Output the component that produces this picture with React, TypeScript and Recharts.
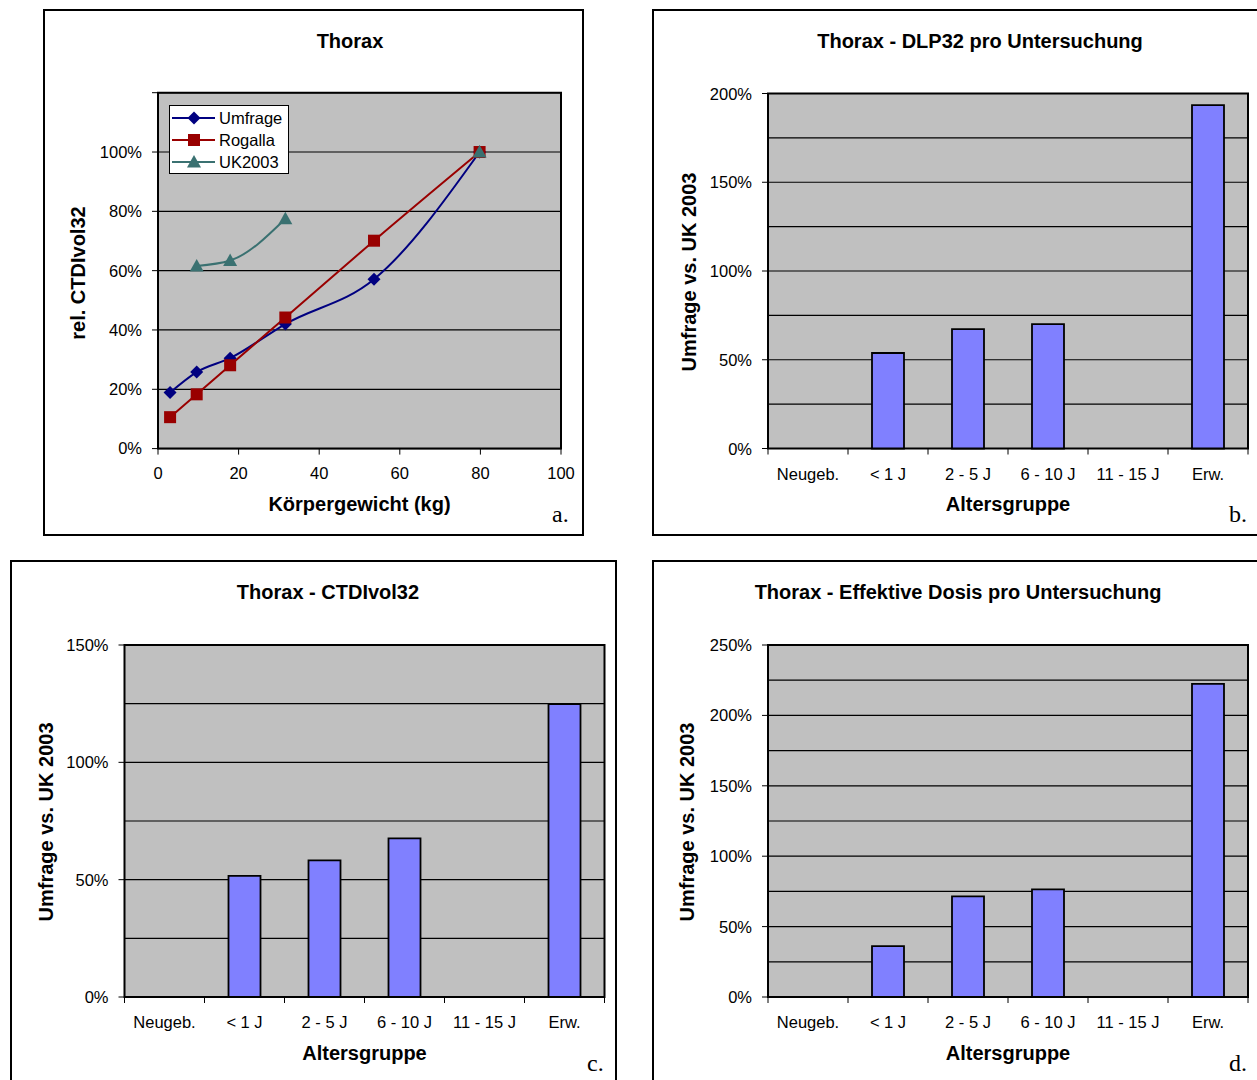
import React from "react";
import {
  LineChart,
  Line,
  BarChart,
  Bar,
  XAxis,
  YAxis,
  CartesianGrid,
  ReferenceArea,
} from "recharts";

const FONT = '"Liberation Sans", Arial, Helvetica, sans-serif';
const SERIF = '"Liberation Serif", "Times New Roman", serif';

const NAVY = "#000080";
const DARK_RED = "#990000";
const TEAL = "#3A7171";
const BAR_FILL = "#8080FF";
const PLOT_BG = "#C0C0C0";

// a. rel. CTDIvol32 over body weight
const weights = [3, 9.6, 17.9, 31.6, 53.6, 79.8];
const umfrage = [18.9, 25.8, 30.5, 42.0, 57.1, 100];
const rogalla = [10.6, 18.3, 28.1, 44.2, 70.1, 100];
const uk2003: (number | null)[] = [null, 61.6, 63.4, 77.5, null, 100];
const weightTicks = [0, 20, 40, 60, 80, 100];
const relTicks = [0, 20, 40, 60, 80, 100, 120];

// b.-d. Umfrage vs. UK 2003 per age group
const ageGroups = ["Neugeb.", "< 1 J", "2 - 5 J", "6 - 10 J", "11 - 15 J", "Erw."];
const dlpRatio = [null, 53.8, 67.3, 70.1, null, 193.5];
const ctdiRatio = [null, 51.6, 58.2, 67.6, null, 124.8];
const doseRatio = [null, 36.2, 71.5, 76.5, null, 222.4];
const ageEdgeTicks = [0, 0.5, 1, 1.5, 2, 2.5, 3, 3.5, 4, 4.5, 5, 5.5, 6];
const dlpTicks = [0, 25, 50, 75, 100, 125, 150, 175, 200];
const ctdiTicks = [0, 25, 50, 75, 100, 125, 150];
const doseTicks = [0, 25, 50, 75, 100, 125, 150, 175, 200, 225, 250];

type Plot = { l: number; t: number; r: number; b: number };

// margins so that the plot area lands on the given page rectangle
function frame(ox: number, oy: number, w: number, h: number, p: Plot) {
  return {
    margin: { top: p.t - oy, right: ox + w - p.r, left: 0, bottom: 0 },
    yWidth: p.l - ox,
    xHeight: oy + h - p.b,
  };
}

const tickText = { fill: "#000", fontSize: 16.5, fontFamily: FONT };

function Diamond({ cx, cy, color }: any) {
  if (cx == null || cy == null) return <g />;
  const s = 6.5;
  return (
    <polygon
      points={`${cx},${cy - s} ${cx + s},${cy} ${cx},${cy + s} ${cx - s},${cy}`}
      fill={color}
    />
  );
}

function Square({ cx, cy, color }: any) {
  if (cx == null || cy == null) return <g />;
  return <rect x={cx - 6} y={cy - 6} width={12} height={12} fill={color} />;
}

function Triangle({ cx, cy, color }: any) {
  if (cx == null || cy == null) return <g />;
  return (
    <polygon
      points={`${cx},${cy - 7} ${cx + 7},${cy + 5.5} ${cx - 7},${cy + 5.5}`}
      fill={color}
    />
  );
}

function WeightChart() {
  const ox = 44, oy = 10, w = 540, h = 526;
  const f = frame(ox, oy, w, h, { l: 158, t: 92.7, r: 561, b: 448.6 });
  const rows = weights.map((x, i) => ({
    x,
    umfrage: umfrage[i],
    rogalla: rogalla[i],
    uk: uk2003[i],
  }));
  return (
    <div style={{ position: "absolute", left: ox, top: oy }}>
      <LineChart width={w} height={h} data={rows} margin={f.margin}>
        <CartesianGrid vertical={false} stroke="#000" strokeWidth={1.2} fill={PLOT_BG} fillOpacity={1} />
        <XAxis
          type="number"
          dataKey="x"
          domain={[0, 100]}
          ticks={weightTicks}
          interval={0}
          height={f.xHeight}
          axisLine={false}
          tickLine={{ stroke: "#000" }}
          tickSize={6}
          tickMargin={13}
          tick={tickText}
        />
        <YAxis
          type="number"
          domain={[0, 120]}
          ticks={relTicks}
          interval={0}
          width={f.yWidth}
          axisLine={false}
          tickLine={{ stroke: "#000" }}
          tickSize={6}
          tickMargin={10}
          tick={tickText}
          tickFormatter={(v: number) => (v === 120 ? "" : `${v}%`)}
        />
        <ReferenceArea x1={0} x2={100} y1={0} y2={120} fill="none" stroke="#000" strokeWidth={2} />
        <Line
          type="monotone"
          dataKey="umfrage"
          stroke={NAVY}
          strokeWidth={2}
          dot={(p: any) => <Diamond key={p.index} cx={p.cx} cy={p.cy} color={NAVY} />}
          isAnimationActive={false}
        />
        <Line
          type="monotone"
          dataKey="rogalla"
          stroke={DARK_RED}
          strokeWidth={2}
          dot={(p: any) => <Square key={p.index} cx={p.cx} cy={p.cy} color={DARK_RED} />}
          isAnimationActive={false}
        />
        <Line
          type="monotone"
          dataKey="uk"
          stroke={TEAL}
          strokeWidth={2}
          dot={(p: any) => <Triangle key={p.index} cx={p.cx} cy={p.cy} color={TEAL} />}
          isAnimationActive={false}
        />
      </LineChart>
    </div>
  );
}

// x ticks: boundary marks on whole numbers, group names at band centres
const ageTick = (props: any) => {
  const { x, y, payload } = props;
  const v = payload.value as number;
  if (Number.isInteger(v)) {
    return <line x1={x} x2={x} y1={y} y2={y + 6} stroke="#000" />;
  }
  return (
    <text x={x} y={y + 31} textAnchor="middle" {...tickText}>
      {ageGroups[Math.floor(v)]}
    </text>
  );
};

// y ticks: every 25 % for the grid, label and mark only every 50 %
const pctTick = (props: any) => {
  const { x, y, payload } = props;
  const v = payload.value as number;
  if (v % 50 !== 0) return <g />;
  return (
    <g>
      <line x1={x - 6} x2={x} y1={y} y2={y} stroke="#000" />
      <text x={x - 16} y={y + 6} textAnchor="end" {...tickText}>
        {`${v}%`}
      </text>
    </g>
  );
};

interface AgeChartProps {
  values: (number | null)[];
  yTicks: number[];
  ox: number;
  oy: number;
  w: number;
  h: number;
  plot: Plot;
}

function AgeChart({ values, yTicks, ox, oy, w, h, plot }: AgeChartProps) {
  const f = frame(ox, oy, w, h, plot);
  const yMax = yTicks[yTicks.length - 1];
  const rows = ageGroups.map((g, i) => ({ pos: i + 0.5, group: g, value: values[i] }));
  return (
    <div style={{ position: "absolute", left: ox, top: oy }}>
      <BarChart width={w} height={h} data={rows} margin={f.margin}>
        <CartesianGrid vertical={false} stroke="#000" strokeWidth={1.2} fill={PLOT_BG} fillOpacity={1} />
        <XAxis
          type="number"
          dataKey="pos"
          domain={[0, 6]}
          ticks={ageEdgeTicks}
          interval={0}
          height={f.xHeight}
          axisLine={false}
          tickLine={false}
          tickSize={0}
          tickMargin={0}
          tick={ageTick}
        />
        <YAxis
          type="number"
          domain={[0, yMax]}
          ticks={yTicks}
          interval={0}
          width={f.yWidth}
          axisLine={false}
          tickLine={false}
          tickSize={0}
          tickMargin={0}
          tick={pctTick}
        />
        <ReferenceArea x1={0} x2={6} y1={0} y2={yMax} fill="none" stroke="#000" strokeWidth={2} />
        <Bar
          dataKey="value"
          fill={BAR_FILL}
          stroke="#000"
          strokeWidth={1.8}
          barSize={32}
          isAnimationActive={false}
        />
      </BarChart>
    </div>
  );
}

function Box({ left, top, width, height }: any) {
  return (
    <div
      style={{
        position: "absolute",
        left,
        top,
        width,
        height,
        border: "2px solid #000",
        boxSizing: "border-box",
      }}
    />
  );
}

const legendItems = [
  { name: "Umfrage", color: NAVY, Mark: Diamond },
  { name: "Rogalla", color: DARK_RED, Mark: Square },
  { name: "UK2003", color: TEAL, Mark: Triangle },
];

export default function App() {
  const bold = { fontFamily: FONT, fontSize: 20, fontWeight: 700, fill: "#000" } as const;
  return (
    <div
      style={{
        position: "absolute",
        left: 0,
        top: 0,
        width: 1257,
        height: 1080,
        overflow: "hidden",
        background: "#fff",
      }}
    >
      <Box left={43} top={9} width={541} height={527} />
      <Box left={652} top={9} width={700} height={527} />
      <Box left={10} top={560} width={607} height={600} />
      <Box left={652} top={560} width={700} height={600} />

      <WeightChart />
      <AgeChart values={dlpRatio} yTicks={dlpTicks} ox={653} oy={10} w={604} h={526} plot={{ l: 768, t: 93.5, r: 1248, b: 448.5 }} />
      <AgeChart values={ctdiRatio} yTicks={ctdiTicks} ox={11} oy={561} w={606} h={519} plot={{ l: 124.5, t: 645, r: 604.5, b: 997 }} />
      <AgeChart values={doseRatio} yTicks={doseTicks} ox={653} oy={561} w={604} h={519} plot={{ l: 768, t: 645, r: 1248, b: 997 }} />

      <svg
        width={1257}
        height={1080}
        style={{ position: "absolute", left: 0, top: 0, pointerEvents: "none" }}
      >
        {/* titles */}
        <text x={350} y={48} textAnchor="middle" {...bold}>Thorax</text>
        <text x={980} y={48} textAnchor="middle" {...bold}>Thorax - DLP32 pro Untersuchung</text>
        <text x={328} y={599} textAnchor="middle" {...bold}>Thorax - CTDIvol32</text>
        <text x={958} y={599} textAnchor="middle" {...bold}>Thorax - Effektive Dosis pro Untersuchung</text>

        {/* axis titles */}
        <text x={359.5} y={511} textAnchor="middle" {...bold}>Körpergewicht (kg)</text>
        <text x={1008} y={511} textAnchor="middle" {...bold}>Altersgruppe</text>
        <text x={364.5} y={1060} textAnchor="middle" {...bold}>Altersgruppe</text>
        <text x={1008} y={1060} textAnchor="middle" {...bold}>Altersgruppe</text>
        <text x={85} y={273} textAnchor="middle" transform="rotate(-90 85 273)" {...bold}>rel. CTDIvol32</text>
        <text x={696} y={272} textAnchor="middle" transform="rotate(-90 696 272)" {...bold}>Umfrage vs. UK 2003</text>
        <text x={53} y={822} textAnchor="middle" transform="rotate(-90 53 822)" {...bold}>Umfrage vs. UK 2003</text>
        <text x={694} y={822} textAnchor="middle" transform="rotate(-90 694 822)" {...bold}>Umfrage vs. UK 2003</text>

        {/* panel letters */}
        <text x={552} y={522} fontFamily={SERIF} fontSize={24} fill="#000">a.</text>
        <text x={1229} y={522} fontFamily={SERIF} fontSize={24} fill="#000">b.</text>
        <text x={587} y={1071} fontFamily={SERIF} fontSize={24} fill="#000">c.</text>
        <text x={1229} y={1071} fontFamily={SERIF} fontSize={24} fill="#000">d.</text>

        {/* legend of panel a */}
        <rect x={169.5} y={105.5} width={119} height={68} fill="#fff" stroke="#000" strokeWidth={1} />
        {legendItems.map((it, i) => {
          const cy = 118 + i * 22;
          const Mark = it.Mark;
          return (
            <g key={it.name}>
              <line x1={172} x2={215} y1={cy} y2={cy} stroke={it.color} strokeWidth={2} />
              <Mark cx={194} cy={cy} color={it.color} />
              <text x={219} y={cy + 6} {...tickText}>{it.name}</text>
            </g>
          );
        })}
      </svg>
    </div>
  );
}
